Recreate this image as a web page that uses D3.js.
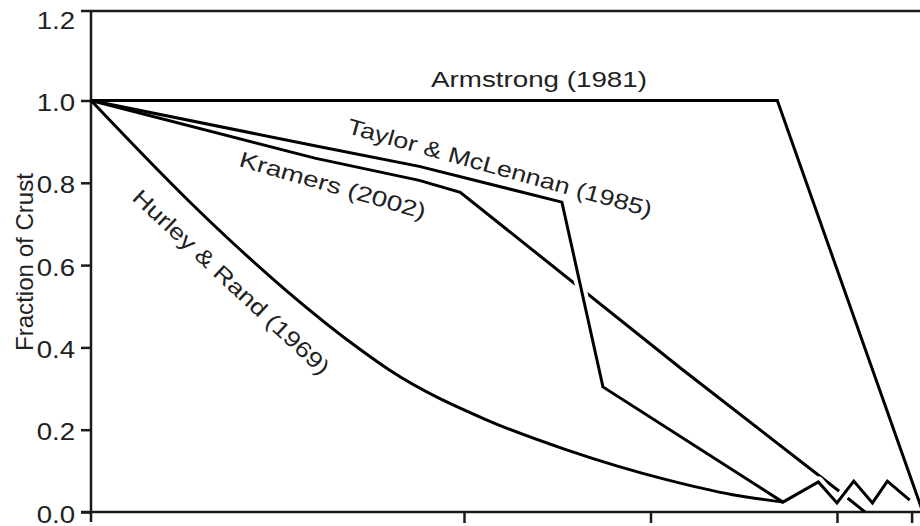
<!DOCTYPE html>
<html>
<head>
<meta charset="utf-8">
<script src="https://cdn.jsdelivr.net/npm/d3@7"></script>
<style>
  html, body { margin: 0; padding: 0; background: #fff; }
  svg { display: block; }
  text { font-family: "Liberation Sans", Arial, Helvetica, sans-serif; fill: #222; }
</style>
</head>
<body>
<svg id="chart" width="920" height="526"></svg>
<script>
// ---- data (x = age in Ga, y = fraction of crust) ----
const yTicks = [0, 0.2, 0.4, 0.6, 0.8, 1.0, 1.2];
const xTicks = [2, 3, 4, 4.4];

const armstrong = [[0, 1.0], [3.68, 1.0], [4.46, 0.0]];
const taylorMcLennan = [[0, 1.0], [1.2, 0.89], [1.76, 0.84], [2.525, 0.753], [2.745, 0.304], [3.71, 0.024],
  [3.90, 0.073], [4.0, 0.022], [4.09, 0.075], [4.19, 0.022], [4.27, 0.075], [4.39, 0.029]];
const kramers = [[0, 1.0], [1.2, 0.86], [1.76, 0.806], [1.98, 0.777], [3.174, 0.345], [4.005, 0.053], [4.15, 0.0]];
const hurleyRand = [[0, 1.0], [0.504, 0.765], [0.777, 0.647], [1.05, 0.537], [1.44, 0.396], [1.60, 0.345],
  [2.12, 0.224], [2.55, 0.151], [3.09, 0.078], [3.44, 0.042], [3.71, 0.024]];

const seriesLabels = [
  { name: "Armstrong (1981)" },
  { name: "Taylor & McLennan (1985)" },
  { name: "Kramers (2002)" },
  { name: "Hurley & Rand (1969)" }
];

// ---- layout ----
const svg = d3.select("#chart");
const x = d3.scaleLinear().domain([0, 4.4]).range([91, 91 + 4.4 * 186.5]);
const y = d3.scaleLinear().domain([0, 1]).range([512, 100.5]);

const axisColor = "#1a1a1a";

// frame / axes lines
svg.append("line").attr("x1", 81).attr("x2", 920).attr("y1", 11).attr("y2", 11)
  .attr("stroke", axisColor).attr("stroke-width", 2.5);
svg.append("line").attr("x1", 91).attr("x2", 91).attr("y1", 11).attr("y2", 522)
  .attr("stroke", axisColor).attr("stroke-width", 2.5);
svg.append("line").attr("x1", 81).attr("x2", 920).attr("y1", y(0)).attr("y2", y(0))
  .attr("stroke", axisColor).attr("stroke-width", 2.5);

// y axis ticks
const yAxis = svg.append("g").attr("transform", "translate(91,0)")
  .call(d3.axisLeft(y).tickValues(yTicks).tickSize(10).tickPadding(6).tickFormat(d3.format(".1f")));
yAxis.select(".domain").remove();
yAxis.selectAll(".tick line").attr("stroke", axisColor).attr("stroke-width", 2.5)
  .filter(d => d > 1.1).remove();
yAxis.selectAll(".tick text")
  .attr("font-size", 23).attr("fill", "#222")
  .attr("font-family", "Liberation Sans, Arial, sans-serif")
  .attr("x", null).attr("text-anchor", "end")
  .attr("transform", "translate(-16,2) scale(1.2,1)")
  .attr("dy", "0.35em");

// x axis ticks (labels cropped off in the reference)
const xAxis = svg.append("g").attr("transform", `translate(0,${y(0)})`)
  .call(d3.axisBottom(x).tickValues(xTicks).tickSize(11).tickFormat(""));
xAxis.select(".domain").remove();
xAxis.selectAll(".tick line").attr("stroke", axisColor).attr("stroke-width", 2.5);

// y axis title
svg.append("text")
  .attr("transform", "translate(33,262) rotate(-90)")
  .attr("text-anchor", "middle")
  .attr("font-size", 24)
  .attr("textLength", 178).attr("lengthAdjust", "spacingAndGlyphs")
  .text("Fraction of Crust");

// ---- lines ----
const line = d3.line().x(d => x(d[0])).y(d => y(d[1]));
const curveLine = d3.line().x(d => x(d[0])).y(d => y(d[1])).curve(d3.curveMonotoneX);
const lineColor = "#000";
const lw = 3;

svg.append("path").datum(armstrong).attr("d", line)
  .attr("fill", "none").attr("stroke", lineColor).attr("stroke-width", lw).attr("stroke-linejoin", "miter");
svg.append("path").datum(kramers).attr("d", line)
  .attr("fill", "none").attr("stroke", lineColor).attr("stroke-width", lw);
// white halo where Taylor & McLennan crosses over other lines
svg.append("path").datum(taylorMcLennan.slice(3)).attr("d", line)
  .attr("fill", "none").attr("stroke", "#fff").attr("stroke-width", 11).attr("stroke-linejoin", "round");
svg.append("path").datum(taylorMcLennan).attr("d", line)
  .attr("fill", "none").attr("stroke", lineColor).attr("stroke-width", lw);
svg.append("path").datum(hurleyRand).attr("d", curveLine)
  .attr("fill", "none").attr("stroke", lineColor).attr("stroke-width", lw);

// ---- series labels ----
svg.append("text")
  .attr("transform", "translate(431,87)")
  .attr("font-size", 22)
  .attr("textLength", 216).attr("lengthAdjust", "spacingAndGlyphs")
  .text(seriesLabels[0].name);
svg.append("text")
  .attr("transform", "translate(346,133) rotate(15.5)")
  .attr("font-size", 22)
  .attr("textLength", 315).attr("lengthAdjust", "spacingAndGlyphs")
  .text(seriesLabels[1].name);
svg.append("text")
  .attr("transform", "translate(238,166) rotate(16)")
  .attr("font-size", 22)
  .attr("textLength", 193).attr("lengthAdjust", "spacingAndGlyphs")
  .text(seriesLabels[2].name);
svg.append("text")
  .attr("transform", "translate(131,199) rotate(43)")
  .attr("font-size", 22)
  .attr("textLength", 260).attr("lengthAdjust", "spacingAndGlyphs")
  .text(seriesLabels[3].name);
</script>
</body>
</html>
